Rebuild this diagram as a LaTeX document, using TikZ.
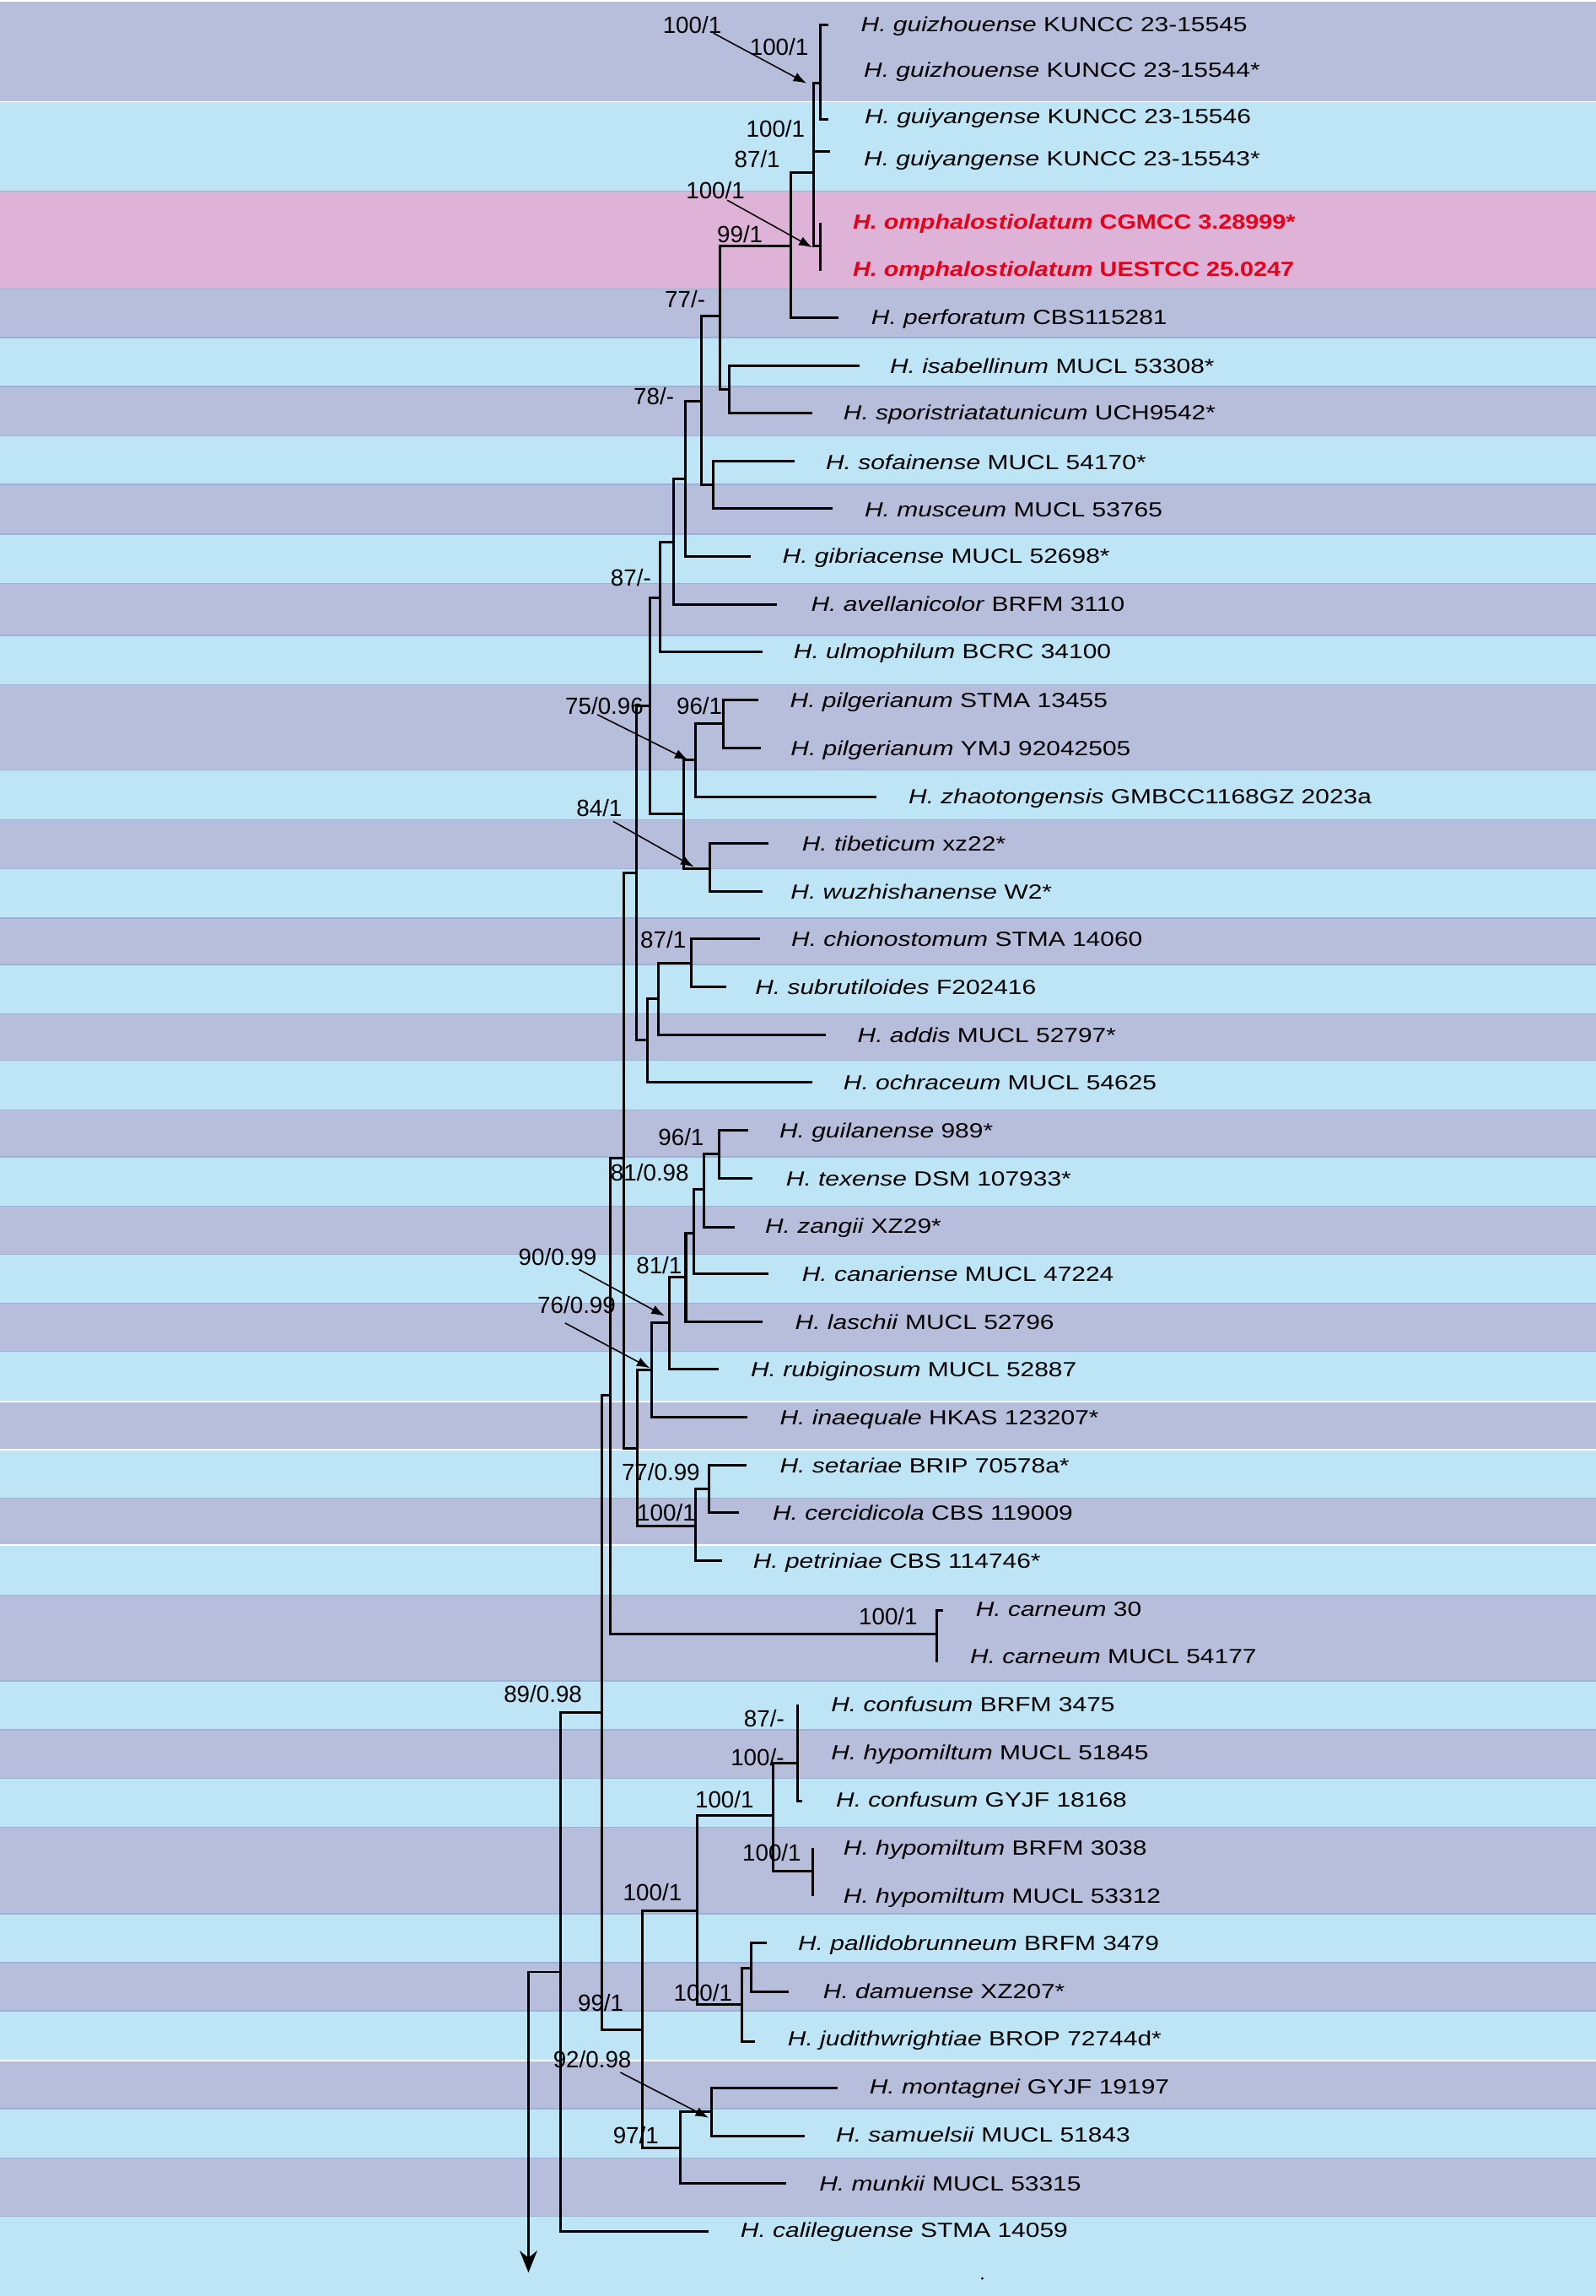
\documentclass[tikz,border=0pt]{standalone}
\usepackage{fontspec}
\setmainfont{Liberation Sans}
\usepackage{graphicx}
\usetikzlibrary{arrows.meta}
\definecolor{bandP}{RGB}{183,190,219}
\definecolor{bandB}{RGB}{190,229,246}
\definecolor{bandK}{RGB}{223,179,216}
\definecolor{sepline}{RGB}{158,176,214}
\definecolor{redtxt}{RGB}{232,0,24}
\newcommand{\sx}[1]{\scalebox{1.233}[1]{#1}}
\newcommand{\sxb}[1]{\scalebox{1.185}[1]{#1}}
\begin{document}
\begin{tikzpicture}[x=1pt,y=-1pt,
  br/.style={line width=1.75pt, line join=miter},
  taxon/.style={anchor=base west, inner sep=0pt, font=\fontsize{14}{16}\selectfont},
  newsp/.style={anchor=base west, inner sep=0pt, text=redtxt, font=\fontsize{14}{16}\selectfont\bfseries},
  supp/.style={anchor=base west, inner sep=0pt, font=\fontsize{16}{18}\selectfont},
  ptr/.style={line width=0.9pt, -{Latex[length=9pt,width=6.5pt]}},
  rootptr/.style={line width=1.2pt, -{Stealth[length=15pt,width=12pt]}}]
\useasboundingbox (0,0) rectangle (1090,1568);
\fill[white] (0,0) rectangle (1090,1568);
% background bands
\foreach \a/\b/\c in {1/69.5/bandP,69.5/130.5/bandB,130.5/197.5/bandK,197.5/230.5/bandP,230.5/264/bandB,264/297.6/bandP,297.6/330.7/bandB,330.7/364.8/bandP,364.8/398.5/bandB,398.5/434/bandP,434/467.6/bandB,467.6/526/bandP,526/559.8/bandB,559.8/593.4/bandP,593.4/627/bandB,627/658.6/bandP,658.6/692.2/bandB,692.2/724/bandP,724/758/bandB,758/790/bandP,790/823.8/bandB,823.8/856.5/bandP,856.5/890/bandB,890/922.7/bandP,922.7/957/bandB,957/990/bandP,990/1023/bandB,1023/1055/bandP,1055/1089.4/bandB,1089.4/1148/bandP,1148/1181.4/bandB,1181.4/1214.5/bandP,1214.5/1248/bandB,1248/1307/bandP,1307/1340.4/bandB,1340.4/1373.3/bandP,1373.3/1407/bandB,1407/1440/bandP,1440/1473.6/bandB,1473.6/1513.7/bandP,1513.7/1568/bandB}
  {\fill[\c] (0,\a) rectangle (1090,\b);}
\foreach \y in {130.5,197.5,230.5,264,297.6,330.7,364.8,398.5,434,467.6,526,559.8,593.4,627,658.6,692.2,724,758,790,823.8,856.5,890,922.7,1023,1089.4,1148,1181.4,1214.5,1248,1307,1340.4,1373.3,1440,1473.6,1513.7}
  {\draw[sepline, line width=0.8pt] (0,\y) -- (1090,\y);}
\foreach \y in {69.5,957,990,1055,1407}
  {\draw[white, line width=1pt] (0,\y) -- (1090,\y);}

% internal nodes
\coordinate (nR) at (383,1346.5);
\coordinate (rA) at (361,1346.5);
\coordinate (rB) at (361,1552);
\coordinate (n89) at (411,1169.5);
\coordinate (n417) at (417,953);
\coordinate (n426) at (426,791);
\coordinate (n435) at (435,596);
\coordinate (n444) at (444,482);
\coordinate (n451) at (451,408);
\coordinate (n460) at (460,370.5);
\coordinate (n468) at (468,327);
\coordinate (n479) at (479,274);
\coordinate (n492) at (492,216);
\coordinate (nC) at (540,168);
\coordinate (nB) at (556,118);
\coordinate (nA) at (560.6,56.7);
\coordinate (nO) at (560.4,168);
\coordinate (nIsa) at (498,266);
\coordinate (n487) at (487,331);
\coordinate (n467) at (467,556);
\coordinate (n475) at (475,519);
\coordinate (n494) at (494,494);
\coordinate (n485) at (485,593);
\coordinate (n442) at (442,710.5);
\coordinate (n450) at (450,682);
\coordinate (n472) at (472,658);
\coordinate (n436) at (435.5,989);
\coordinate (n445) at (445,935.5);
\coordinate (n457) at (457.5,903.5);
\coordinate (n468b) at (468.5,872);
\coordinate (n474) at (474,842);
\coordinate (n481) at (481,812.5);
\coordinate (n491) at (491,788);
\coordinate (n475b) at (475,1042);
\coordinate (n484) at (484.5,1017);
\coordinate (nCar) at (640,1116);
\coordinate (n99) at (439,1386);
\coordinate (n476) at (476,1305);
\coordinate (n528) at (528,1240);
\coordinate (n545) at (545,1204);
\coordinate (n555) at (555,1278);
\coordinate (n507) at (507,1369);
\coordinate (n513) at (513,1344);
\coordinate (n465) at (465,1467);
\coordinate (n486) at (486,1442);
% tips
\coordinate (tG1) at (566,17);
\coordinate (tGy1) at (566,81.6);
\coordinate (tGy2) at (567,103.7);
\coordinate (tO1) at (560.4,152);
\coordinate (tO2) at (560.4,185);
\coordinate (tPer) at (573,217);
\coordinate (tIsa) at (587,250);
\coordinate (tSpo) at (555,282);
\coordinate (tSof) at (543,315);
\coordinate (tMus) at (569,347);
\coordinate (tGib) at (513,380);
\coordinate (tAve) at (531,413);
\coordinate (tUlm) at (521,445);
\coordinate (tPilA) at (518,478);
\coordinate (tPilB) at (520,511);
\coordinate (tZha) at (599,544);
\coordinate (tTib) at (525,576);
\coordinate (tWuz) at (521,609);
\coordinate (tChi) at (519,641);
\coordinate (tSub) at (496,674);
\coordinate (tAdd) at (564,707);
\coordinate (tOch) at (555,739);
\coordinate (tGui) at (511,772);
\coordinate (tTex) at (514,804.5);
\coordinate (tZan) at (502,838);
\coordinate (tCan) at (525,870);
\coordinate (tLas) at (521,902.5);
\coordinate (tRub) at (491,935);
\coordinate (tIna) at (510.5,968);
\coordinate (tSet) at (510,1000.5);
\coordinate (tCer) at (505,1033);
\coordinate (tPet) at (493,1066);
\coordinate (tCarA) at (644,1099.5);
\coordinate (tCarB) at (640,1135.5);
\coordinate (tConA) at (545,1164);
\coordinate (tConB) at (548,1230);
\coordinate (tHyB) at (555,1262);
\coordinate (tHyC) at (555,1295);
\coordinate (tPal) at (524,1327);
\coordinate (tDam) at (539,1360);
\coordinate (tJud) at (516,1394);
\coordinate (tMon) at (572,1426);
\coordinate (tSam) at (550,1459);
\coordinate (tMun) at (537,1491);
\coordinate (tCal) at (484,1524);

% branches
\begin{scope}[br]
\draw (n89) -| (nR) |- (tCal);
\draw (n417) -| (n89) |- (n99);
\draw (n426) -| (n417) |- (nCar);
\draw (n435) -| (n426) |- (n436);
\draw (n444) -| (n435) |- (n442);
\draw (n451) -| (n444) |- (n467);
\draw (n460) -| (n451) |- (tUlm);
\draw (n468) -| (n460) |- (tAve);
\draw (n479) -| (n468) |- (tGib);
\draw (n492) -| (n479) |- (n487);
\draw (nC) -| (n492) |- (nIsa);
\draw (nB) -| (nC) |- (tPer);
\draw (nA) -| (nB) |- (nO);
\draw (tGy2) -| (nB);
\draw (tG1) -| (nA) |- (tGy1);
\draw (tO1) -- (tO2);
\draw (tIsa) -| (nIsa) |- (tSpo);
\draw (tSof) -| (n487) |- (tMus);
\draw (n475) -| (n467) |- (n485);
\draw (n494) -| (n475) |- (tZha);
\draw (tPilA) -| (n494) |- (tPilB);
\draw (tTib) -| (n485) |- (tWuz);
\draw (n450) -| (n442) |- (tOch);
\draw (n472) -| (n450) |- (tAdd);
\draw (tChi) -| (n472) |- (tSub);
\draw (n445) -| (n436) |- (n475b);
\draw (n457) -| (n445) |- (tIna);
\draw (n468b) -| (n457) |- (tRub);
\draw (n474) -| (n468b) |- (tLas);
\draw (n481) -| (n474) |- (tCan);
\draw (n491) -| (n481) |- (tZan);
\draw (tGui) -| (n491) |- (tTex);
\draw (n484) -| (n475b) |- (tPet);
\draw (tSet) -| (n484) |- (tCer);
\draw (tCarA) -| (nCar) |- (tCarB);
\draw (n476) -| (n99) |- (n465);
\draw (n528) -| (n476) |- (n507);
\draw (n545) -| (n528) |- (n555);
\draw (tConA) |- (tConB);
\draw (tHyB) -- (tHyC);
\draw (n513) -| (n507) |- (tJud);
\draw (tPal) -| (n513) |- (tDam);
\draw (n486) -| (n465) |- (tMun);
\draw (tMon) -| (n486) |- (tSam);
\end{scope}
\draw[rootptr] (nR) -- (rA) -- (rB);
\fill (671,1556) circle (0.9);

% taxa
\node[taxon] (x1) at (588,21.7) {\sx{\textit{H. guizhouense} KUNCC 23-15545}};
\node[taxon] (x2) at (590,52.7) {\sx{\textit{H. guizhouense} KUNCC 23-15544*}};
\node[taxon] (x3) at (590.5,84.5) {\sx{\textit{H. guiyangense} KUNCC 23-15546}};
\node[taxon] (x4) at (590,113.2) {\sx{\textit{H. guiyangense} KUNCC 23-15543*}};
\node[newsp] (x5) at (582.4,156.4) {\sxb{\textit{H. omphalostiolatum} CGMCC 3.28999*}};
\node[newsp] (x6) at (582.4,189) {\sxb{\textit{H. omphalostiolatum} UESTCC 25.0247}};
\node[taxon] (x7) at (595,221.5) {\sx{\textit{H. perforatum} CBS115281}};
\node[taxon] (x8) at (607.8,255) {\sx{\textit{H. isabellinum} MUCL 53308*}};
\node[taxon] (x9) at (576,286.8) {\sx{\textit{H. sporistriatatunicum} UCH9542*}};
\node[taxon] (x10) at (564,320.4) {\sx{\textit{H. sofainense} MUCL 54170*}};
\node[taxon] (x11) at (590.5,352.9) {\sx{\textit{H. musceum} MUCL 53765}};
\node[taxon] (x12) at (534.4,384.7) {\sx{\textit{H. gibriacense} MUCL 52698*}};
\node[taxon] (x13) at (553.9,417.7) {\sx{\textit{H. avellanicolor} BRFM 3110}};
\node[taxon] (x14) at (542,450) {\sx{\textit{H. ulmophilum} BCRC 34100}};
\node[taxon] (x15) at (539.6,483) {\sx{\textit{H. pilgerianum} STMA 13455}};
\node[taxon] (x16) at (540,516) {\sx{\textit{H. pilgerianum} YMJ 92042505}};
\node[taxon] (x17) at (620.5,549) {\sx{\textit{H. zhaotongensis} GMBCC1168GZ 2023a}};
\node[taxon] (x18) at (547.7,581) {\sx{\textit{H. tibeticum} xz22*}};
\node[taxon] (x19) at (540,614) {\sx{\textit{H. wuzhishanense} W2*}};
\node[taxon] (x20) at (540.4,646) {\sx{\textit{H. chionostomum} STMA 14060}};
\node[taxon] (x21) at (515.7,679) {\sx{\textit{H. subrutiloides} F202416}};
\node[taxon] (x22) at (585.7,712) {\sx{\textit{H. addis} MUCL 52797*}};
\node[taxon] (x23) at (576,744) {\sx{\textit{H. ochraceum} MUCL 54625}};
\node[taxon] (x24) at (532.3,777) {\sx{\textit{H. guilanense} 989*}};
\node[taxon] (x25) at (536.8,810) {\sx{\textit{H. texense} DSM 107933*}};
\node[taxon] (x26) at (522.5,842) {\sx{\textit{H. zangii} XZ29*}};
\node[taxon] (x27) at (547.7,875) {\sx{\textit{H. canariense} MUCL 47224}};
\node[taxon] (x28) at (543,908) {\sx{\textit{H. laschii} MUCL 52796}};
\node[taxon] (x29) at (512.7,940) {\sx{\textit{H. rubiginosum} MUCL 52887}};
\node[taxon] (x30) at (532.6,973) {\sx{\textit{H. inaequale} HKAS 123207*}};
\node[taxon] (x31) at (532.6,1006) {\sx{\textit{H. setariae} BRIP 70578a*}};
\node[taxon] (x32) at (527.7,1038) {\sx{\textit{H. cercidicola} CBS 119009}};
\node[taxon] (x33) at (514.3,1071) {\sx{\textit{H. petriniae} CBS 114746*}};
\node[taxon] (x34) at (666.4,1104) {\sx{\textit{H. carneum} 30}};
\node[taxon] (x35) at (662.5,1136) {\sx{\textit{H. carneum} MUCL 54177}};
\node[taxon] (x36) at (567.6,1169) {\sx{\textit{H. confusum} BRFM 3475}};
\node[taxon] (x37) at (567.6,1202) {\sx{\textit{H. hypomiltum} MUCL 51845}};
\node[taxon] (x38) at (571,1234) {\sx{\textit{H. confusum} GYJF 18168}};
\node[taxon] (x39) at (576,1267) {\sx{\textit{H. hypomiltum} BRFM 3038}};
\node[taxon] (x40) at (576,1300) {\sx{\textit{H. hypomiltum} MUCL 53312}};
\node[taxon] (x41) at (545,1332) {\sx{\textit{H. pallidobrunneum} BRFM 3479}};
\node[taxon] (x42) at (562.2,1365) {\sx{\textit{H. damuense} XZ207*}};
\node[taxon] (x43) at (538,1397) {\sx{\textit{H. judithwrightiae} BROP 72744d*}};
\node[taxon] (x44) at (593.8,1430) {\sx{\textit{H. montagnei} GYJF 19197}};
\node[taxon] (x45) at (571,1463) {\sx{\textit{H. samuelsii} MUCL 51843}};
\node[taxon] (x46) at (559.5,1496) {\sx{\textit{H. munkii} MUCL 53315}};
\node[taxon] (x47) at (505.7,1528) {\sx{\textit{H. calileguense} STMA 14059}};

% support values
\node[supp] (s1) at (452.6,22.6) {100/1};
\node[supp] (s2) at (512,37.5) {100/1};
\node[supp] (s3) at (509.6,93.5) {100/1};
\node[supp] (s4) at (501.5,114.1) {87/1};
\node[supp] (s5) at (468.5,135.8) {100/1};
\node[supp] (s6) at (489.7,165.7) {99/1};
\node[supp] (s7) at (454,210.2) {77/-};
\node[supp] (s8) at (432.7,276.5) {78/-};
\node[supp] (s9) at (417,400.3) {87/-};
\node[supp] (s10) at (386,487.8) {75/0.96};
\node[supp] (s11) at (462,487.8) {96/1};
\node[supp] (s12) at (393.6,557.7) {84/1};
\node[supp] (s13) at (437.3,647.2) {87/1};
\node[supp] (s14) at (449.5,782.5) {96/1};
\node[supp] (s15) at (417,806.7) {81/0.98};
\node[supp] (s16) at (354,864.1) {90/0.99};
\node[supp] (s17) at (434.5,869.7) {81/1};
\node[supp] (s18) at (367,896.7) {76/0.99};
\node[supp] (s19) at (424.5,1011) {77/0.99};
\node[supp] (s20) at (435,1038.7) {100/1};
\node[supp] (s21) at (586.5,1109.3) {100/1};
\node[supp] (s22) at (344,1162.7) {89/0.98};
\node[supp] (s23) at (508,1179.1) {87/-};
\node[supp] (s24) at (499,1205.7) {100/-};
\node[supp] (s25) at (474.7,1234.7) {100/1};
\node[supp] (s26) at (507,1271.2) {100/1};
\node[supp] (s27) at (425.5,1298) {100/1};
\node[supp] (s28) at (460,1366.3) {100/1};
\node[supp] (s29) at (394.6,1373.7) {99/1};
\node[supp] (s30) at (377.7,1412.3) {92/0.98};
\node[supp] (s31) at (418.6,1463.7) {97/1};

% pointer arrows
\coordinate (p1s) at (487.3,22.6); \coordinate (p1e) at (551,56.9);
\coordinate (p2s) at (496.8,136.7); \coordinate (p2e) at (554.8,169);
\coordinate (p3s) at (408,488); \coordinate (p3e) at (470,519);
\coordinate (p4s) at (419,561); \coordinate (p4e) at (474,592);
\coordinate (p5s) at (395.6,867); \coordinate (p5e) at (454,898.7);
\coordinate (p6s) at (386,903.5); \coordinate (p6e) at (444,934.3);
\coordinate (p7s) at (423.8,1415.3); \coordinate (p7e) at (484.1,1446.3);
\draw[ptr] (p1s) -- (p1e);
\draw[ptr] (p2s) -- (p2e);
\draw[ptr] (p3s) -- (p3e);
\draw[ptr] (p4s) -- (p4e);
\draw[ptr] (p5s) -- (p5e);
\draw[ptr] (p6s) -- (p6e);
\draw[ptr] (p7s) -- (p7e);
\end{tikzpicture}
\end{document}
